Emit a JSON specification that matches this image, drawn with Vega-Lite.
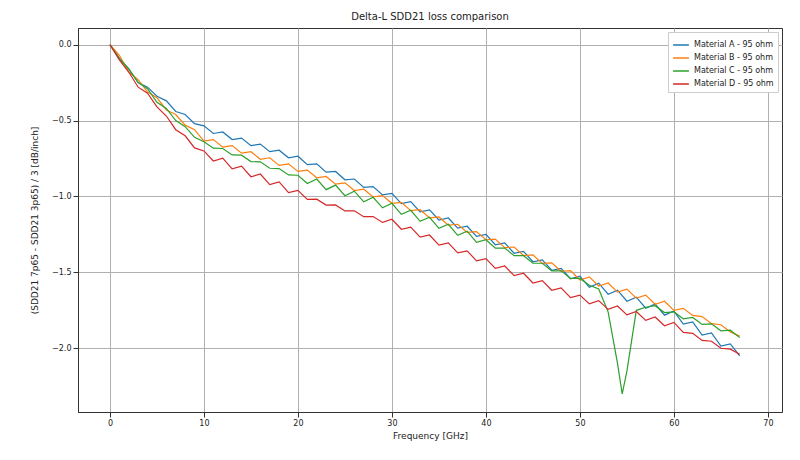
{
  "$schema": "https://vega.github.io/schema/vega-lite/v6.json",
  "width": 800,
  "height": 460,
  "autosize": {"type": "fit", "contains": "padding"},
  "padding": {"left": 30, "top": 12, "right": 18, "bottom": 20},
  "background": "white",
  "config": {"font": "DejaVu Sans", "view": {"stroke": "#333"}},
  "title": {"text": "Delta-L SDD21 loss comparison", "fontSize": 10, "fontWeight": "normal", "color": "#222", "offset": 6},
  "data": {"values": [
    {"f":0,"A":0,"B":0,"C":0,"D":0},
    {"f":1,"A":-0.09,"B":-0.07,"C":-0.09,"D":-0.1},
    {"f":2,"A":-0.16,"B":-0.18,"C":-0.16,"D":-0.18},
    {"f":3,"A":-0.25,"B":-0.23,"C":-0.25,"D":-0.28},
    {"f":4,"A":-0.28,"B":-0.31,"C":-0.29,"D":-0.32},
    {"f":5,"A":-0.34,"B":-0.35,"C":-0.38,"D":-0.41},
    {"f":6,"A":-0.37,"B":-0.43,"C":-0.42,"D":-0.47},
    {"f":7,"A":-0.44,"B":-0.46,"C":-0.50,"D":-0.56},
    {"f":8,"A":-0.46,"B":-0.53,"C":-0.54,"D":-0.60},
    {"f":9,"A":-0.52,"B":-0.56,"C":-0.61,"D":-0.68},
    {"f":10,"A":-0.535,"B":-0.635,"C":-0.64,"D":-0.70},
    {"f":11,"A":-0.585,"B":-0.625,"C":-0.682,"D":-0.766},
    {"f":12,"A":-0.575,"B":-0.675,"C":-0.684,"D":-0.748},
    {"f":13,"A":-0.625,"B":-0.665,"C":-0.726,"D":-0.818},
    {"f":14,"A":-0.615,"B":-0.715,"C":-0.728,"D":-0.80},
    {"f":15,"A":-0.665,"B":-0.705,"C":-0.77,"D":-0.87},
    {"f":16,"A":-0.655,"B":-0.755,"C":-0.772,"D":-0.852},
    {"f":17,"A":-0.705,"B":-0.745,"C":-0.814,"D":-0.922},
    {"f":18,"A":-0.695,"B":-0.795,"C":-0.816,"D":-0.904},
    {"f":19,"A":-0.745,"B":-0.785,"C":-0.858,"D":-0.974},
    {"f":20,"A":-0.735,"B":-0.835,"C":-0.86,"D":-0.96},
    {"f":21,"A":-0.79,"B":-0.826,"C":-0.915,"D":-1.019},
    {"f":22,"A":-0.785,"B":-0.877,"C":-0.885,"D":-1.018},
    {"f":23,"A":-0.84,"B":-0.868,"C":-0.955,"D":-1.057},
    {"f":24,"A":-0.835,"B":-0.919,"C":-0.925,"D":-1.056},
    {"f":25,"A":-0.89,"B":-0.91,"C":-0.995,"D":-1.095},
    {"f":26,"A":-0.885,"B":-0.961,"C":-0.965,"D":-1.094},
    {"f":27,"A":-0.94,"B":-0.952,"C":-1.035,"D":-1.133},
    {"f":28,"A":-0.935,"B":-1.003,"C":-1.005,"D":-1.132},
    {"f":29,"A":-0.99,"B":-0.994,"C":-1.075,"D":-1.171},
    {"f":30,"A":-0.98,"B":-1.045,"C":-1.045,"D":-1.15},
    {"f":31,"A":-1.047,"B":-1.039,"C":-1.118,"D":-1.216},
    {"f":32,"A":-1.034,"B":-1.093,"C":-1.091,"D":-1.202},
    {"f":33,"A":-1.101,"B":-1.087,"C":-1.164,"D":-1.268},
    {"f":34,"A":-1.088,"B":-1.141,"C":-1.137,"D":-1.254},
    {"f":35,"A":-1.155,"B":-1.135,"C":-1.21,"D":-1.32},
    {"f":36,"A":-1.142,"B":-1.189,"C":-1.183,"D":-1.306},
    {"f":37,"A":-1.209,"B":-1.183,"C":-1.256,"D":-1.372},
    {"f":38,"A":-1.196,"B":-1.237,"C":-1.229,"D":-1.358},
    {"f":39,"A":-1.263,"B":-1.231,"C":-1.302,"D":-1.424},
    {"f":40,"A":-1.25,"B":-1.285,"C":-1.285,"D":-1.41},
    {"f":41,"A":-1.318,"B":-1.281,"C":-1.34,"D":-1.474},
    {"f":42,"A":-1.306,"B":-1.337,"C":-1.34,"D":-1.458},
    {"f":43,"A":-1.374,"B":-1.333,"C":-1.39,"D":-1.522},
    {"f":44,"A":-1.362,"B":-1.389,"C":-1.39,"D":-1.506},
    {"f":45,"A":-1.43,"B":-1.385,"C":-1.44,"D":-1.57},
    {"f":46,"A":-1.418,"B":-1.441,"C":-1.44,"D":-1.554},
    {"f":47,"A":-1.486,"B":-1.437,"C":-1.49,"D":-1.618},
    {"f":48,"A":-1.474,"B":-1.493,"C":-1.49,"D":-1.602},
    {"f":49,"A":-1.542,"B":-1.489,"C":-1.54,"D":-1.666},
    {"f":50,"A":-1.525,"B":-1.55,"C":-1.54,"D":-1.65},
    {"f":51,"A":-1.598,"B":-1.53,"C":-1.585,"D":-1.708},
    {"f":52,"A":-1.571,"B":-1.59,"C":-1.61,"D":-1.686},
    {"f":53,"A":-1.644,"B":-1.57,"C":-1.76,"D":-1.744},
    {"f":54,"A":-1.617,"B":-1.63,"C":-2.1,"D":-1.722},
    {"f":54.5,"C":-2.3},
    {"f":55,"A":-1.69,"B":-1.61,"C":-2.15,"D":-1.78},
    {"f":56,"A":-1.663,"B":-1.67,"C":-1.75,"D":-1.758},
    {"f":57,"A":-1.736,"B":-1.65,"C":-1.73,"D":-1.816},
    {"f":58,"A":-1.709,"B":-1.71,"C":-1.72,"D":-1.794},
    {"f":59,"A":-1.782,"B":-1.69,"C":-1.765,"D":-1.852},
    {"f":60,"A":-1.755,"B":-1.75,"C":-1.76,"D":-1.83},
    {"f":61,"A":-1.841,"B":-1.737,"C":-1.806,"D":-1.896},
    {"f":62,"A":-1.827,"B":-1.784,"C":-1.797,"D":-1.902},
    {"f":63,"A":-1.913,"B":-1.791,"C":-1.843,"D":-1.948},
    {"f":64,"A":-1.899,"B":-1.838,"C":-1.839,"D":-1.954},
    {"f":65,"A":-1.985,"B":-1.845,"C":-1.885,"D":-2.0},
    {"f":66,"A":-1.971,"B":-1.892,"C":-1.881,"D":-2.006},
    {"f":67,"A":-2.05,"B":-1.92,"C":-1.93,"D":-2.04}
  ]},
  "transform": [
    {"fold": ["A", "B", "C", "D"], "as": ["series", "value"]},
    {"filter": "isValid(datum.value)"}
  ],
  "mark": {"type": "line", "strokeWidth": 1.2},
  "encoding": {
    "x": {"field": "f", "type": "quantitative", "title": "Frequency [GHz]",
      "scale": {"domain": [-3.4, 71.5], "nice": false, "zero": false},
      "axis": {"values": [0, 10, 20, 30, 40, 50, 60, 70], "gridColor": "#b0b0b0", "tickColor": "#333", "domainColor": "#333", "labelColor": "#222", "titleColor": "#222", "titleFontWeight": "normal", "titleFontSize": 9, "labelFontSize": 8, "labelFlush": false}},
    "y": {"field": "value", "type": "quantitative", "title": "(SDD21 7p65 - SDD21 3p65) / 3 [dB/inch]",
      "scale": {"domain": [-2.42, 0.11], "nice": false, "zero": false},
      "axis": {"values": [-2.0, -1.5, -1.0, -0.5, 0.0], "format": ".1f", "gridColor": "#b0b0b0", "tickColor": "#333", "domainColor": "#333", "labelColor": "#222", "titleColor": "#222", "titleFontWeight": "normal", "titleFontSize": 9, "labelFontSize": 8, "labelFlush": false, "titlePadding": 12}},
    "color": {"field": "series", "type": "nominal", "title": null,
      "scale": {"domain": ["A", "B", "C", "D"], "range": ["#1f77b4", "#ff7f0e", "#2ca02c", "#d62728"]},
      "legend": {"orient": "top-right", "symbolType": "stroke", "symbolStrokeWidth": 1.5, "symbolSize": 250, "labelFontSize": 8, "labelColor": "#222",
        "labelExpr": "'Material ' + datum.label + ' - 95 ohm'",
        "fillColor": "white", "strokeColor": "#ccc", "padding": 4, "offset": 4, "rowPadding": 0}}
  }
}
